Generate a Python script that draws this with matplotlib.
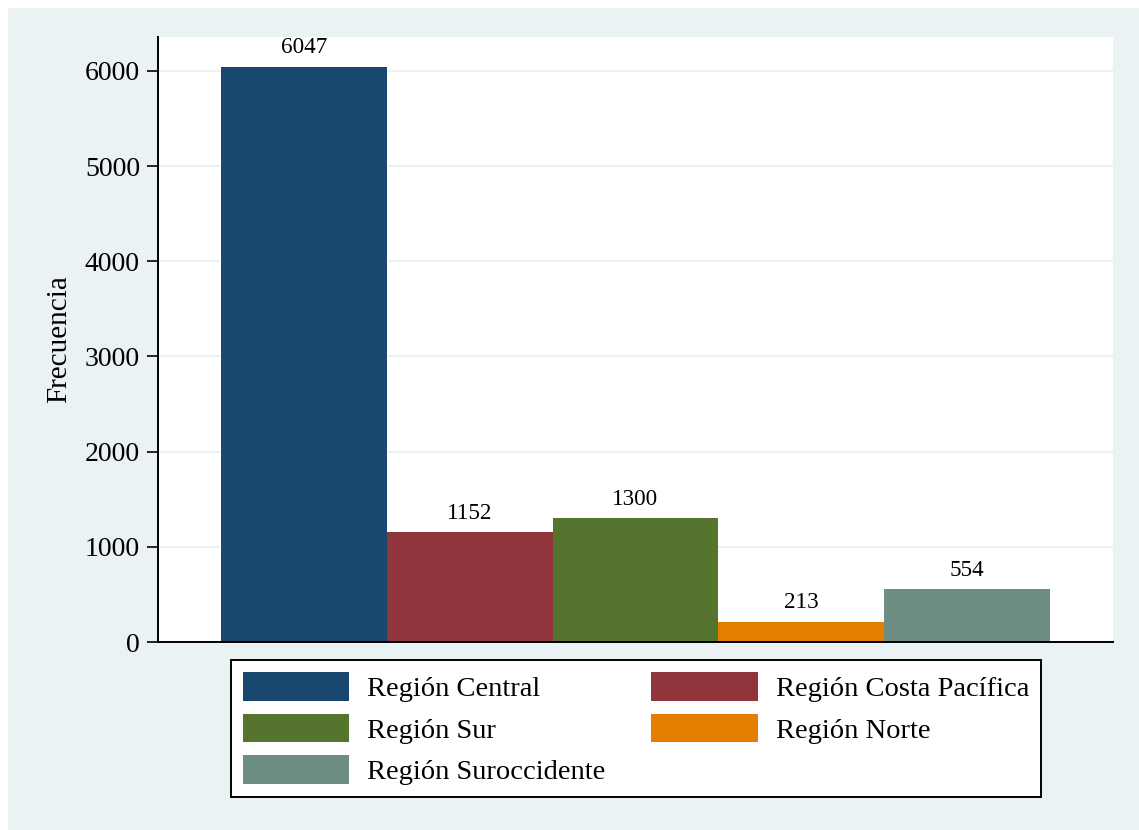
import numpy as np
import matplotlib.pyplot as plt
from matplotlib.patches import Rectangle

# Datos: frecuencia por región
regiones = ['Región Central', 'Región Costa Pacífica', 'Región Sur',
            'Región Norte', 'Región Suroccidente']
frecuencias = [6047, 1152, 1300, 213, 554]
colores = ['#1A476F', '#90353B', '#55752F', '#E37E00', '#6E8E84']
yticks = [0, 1000, 2000, 3000, 4000, 5000, 6000]

plt.rcParams['font.family'] = ['Liberation Serif', 'DejaVu Serif']

W, H = 1139, 830
fig = plt.figure(figsize=(W / 100, H / 100), dpi=100)
fig.patch.set_facecolor('#EAF2F3')
# franja blanca superior e izquierda
fig.patches.append(Rectangle((0, 1 - 8 / H), 1, 8 / H, transform=fig.transFigure,
                             facecolor='white', edgecolor='none', zorder=-1))
fig.patches.append(Rectangle((0, 0), 8 / W, 1, transform=fig.transFigure,
                             facecolor='white', edgecolor='none', zorder=-1))

ax = fig.add_axes([158 / W, 1 - 642 / H, (1113 - 158) / W, (642 - 37) / H])
ax.set_facecolor('white')

x = np.arange(len(regiones))
barras = []
for i, (reg, val, col) in enumerate(zip(regiones, frecuencias, colores)):
    b = ax.bar(x[i], val, width=1.0, color=col, edgecolor='none', label=reg, zorder=2)
    barras.append(b)
    ax.annotate(str(val), (x[i], val), xytext=(0, 6), textcoords='offset points',
                ha='center', va='bottom', fontsize=16.7, color='black',
                annotation_clip=False)

ax.set_xlim(-0.5 - 0.38, len(regiones) - 0.5 + 0.38)
ax.set_ylim(0, 6357)
ax.set_xticks([])
ax.set_yticks(yticks)
ax.set_yticklabels([str(t) for t in yticks], fontsize=20)
ax.tick_params(axis='y', direction='out', length=8, width=1.2, pad=5)
ax.yaxis.grid(True, color='#EAF2F3', linewidth=1.5, zorder=0)
ax.set_axisbelow(True)

for lado in ['top', 'right']:
    ax.spines[lado].set_visible(False)
for lado in ['left', 'bottom']:
    ax.spines[lado].set_linewidth(1.4)
    ax.spines[lado].set_color('black')

ax.set_ylabel('Frecuencia', fontsize=21, labelpad=9)

# leyenda en dos columnas, ordenada por filas
orden = [0, 2, 4, 1, 3]
handles = [barras[i] for i in orden]
labels = [regiones[i] for i in orden]
leg = fig.legend(handles, labels, loc='upper center', ncol=2,
                 bbox_to_anchor=(636 / W, 1 - 660 / H), bbox_transform=fig.transFigure,
                 fontsize=20.5, frameon=True, fancybox=False, edgecolor='black',
                 facecolor='white', framealpha=1,
                 handlelength=3.75, handleheight=1.18, handletextpad=0.63,
                 labelspacing=0.41, borderpad=0.42, columnspacing=1.6,
                 borderaxespad=0)
leg.get_frame().set_linewidth(1.4)

fig.savefig('out.png', dpi=100, facecolor=fig.get_facecolor())
